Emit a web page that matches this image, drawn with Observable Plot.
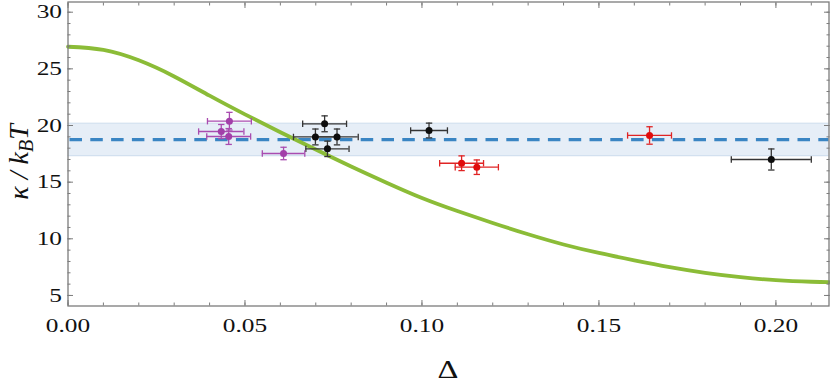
<!DOCTYPE html>
<html><head><meta charset="utf-8">
<script src="https://cdn.jsdelivr.net/npm/d3@7"></script>
<script src="https://cdn.jsdelivr.net/npm/@observablehq/plot@0.6"></script>
<style>body{margin:0;background:#fff}</style>
</head><body><div id="chart"></div>
<script>
// Theory curve (green)
const curveDelta = [0, 0.01, 0.02, 0.03, 0.04, 0.05, 0.06, 0.07, 0.08, 0.09, 0.10, 0.11, 0.12, 0.13, 0.14, 0.15, 0.16, 0.17, 0.18, 0.19, 0.20, 0.21, 0.215];
const curveKappa = [26.95, 26.67, 25.75, 24.33, 22.63, 20.98, 19.41, 17.88, 16.38, 14.95, 13.6, 12.45, 11.4, 10.4, 9.5, 8.75, 8.1, 7.5, 7.0, 6.62, 6.35, 6.21, 6.18];

// Measured points
const pointSet   = ["purple", "purple", "purple", "purple", "black", "black", "black", "black", "black", "black", "red", "red", "red"];
const pointDelta = [0.0456, 0.0433, 0.0454, 0.0609, 0.0725, 0.0699, 0.0760, 0.0733, 0.1020, 0.1987, 0.1112, 0.1155, 0.1643];
const pointKappa = [20.38, 19.47, 19.03, 17.53, 20.15, 18.99, 18.99, 17.94, 19.56, 17.0, 16.67, 16.32, 19.12];
const pointDeltaErr = [0.0062, 0.0064, 0.0062, 0.0060, 0.0062, 0.0062, 0.0060, 0.0061, 0.0052, 0.0113, 0.0062, 0.0061, 0.0062];
const pointKappaErr = [0.78, 0.62, 0.70, 0.55, 0.70, 0.70, 0.70, 0.68, 0.65, 0.93, 0.65, 0.64, 0.77];

// Mean value and its band
const bandMean = 18.75, bandLow = 17.35, bandHigh = 20.2;

// Axes
const xDomain = [0, 0.215];
const yDomain = [4.07, 30.9];
const xTickValues = [0, 0.05, 0.10, 0.15, 0.20];
const yTickValues = [5, 10, 15, 20, 25, 30];
const xMinorTicks = d3.range(0, 0.2151, 0.01);
const yMinorTicks = d3.range(5, 31, 1);

const dotColor = {purple: "#a23fa9", black: "#0d0d0d", red: "#e00c0c"};
const barColor = {purple: "#a94cb0", black: "#353535", red: "#e02424"};

const curve = curveDelta.map((d, i) => ({d, k: curveKappa[i]}));
const pts = pointDelta.map((d, i) => ({d, k: pointKappa[i], de: pointDeltaErr[i], ke: pointKappaErr[i], set: pointSet[i]}));

const capH = {draw(ctx, size) { const r = Math.sqrt(size / Math.PI); ctx.moveTo(-r, 0); ctx.lineTo(r, 0); }};
const capV = {draw(ctx, size) { const r = Math.sqrt(size / Math.PI); ctx.moveTo(0, -r); ctx.lineTo(0, r); }};

const font = "'Liberation Serif', 'Times New Roman', serif";
const fs = 19.5;
const frameColor = "#7c7c7c";

const plot = Plot.plot({
  width: 830, height: 384,
  marginLeft: 67.5, marginRight: 1.5, marginTop: 1.5, marginBottom: 78.5,
  style: {fontFamily: font, fontSize: fs + "px", color: "#111", background: "#fff"},
  x: {domain: xDomain, label: null},
  y: {domain: yDomain, label: null},
  marks: [
    Plot.rect([{lo: bandLow, hi: bandHigh}], {x1: () => xDomain[0], x2: () => xDomain[1], y1: "lo", y2: "hi", fill: "#e6eef7"}),
    Plot.ruleY([bandLow, bandHigh], {stroke: "#d2e0ef", strokeWidth: 1.2}),
    Plot.ruleY([bandMean], {stroke: "#3a85c3", strokeWidth: 3.3, strokeDasharray: "12.5,8.3", strokeDashoffset: -2}),
    Plot.line(curve, {x: "d", y: "k", stroke: "#8bbc37", strokeWidth: 3.8, curve: "natural"}),
    // error bars
    Plot.ruleY(pts, {y: "k", x1: p => p.d - p.de, x2: p => p.d + p.de, stroke: p => barColor[p.set], strokeWidth: 1.3}),
    Plot.ruleX(pts, {x: "d", y1: p => p.k - p.ke, y2: p => p.k + p.ke, stroke: p => barColor[p.set], strokeWidth: 1.3}),
    Plot.dot(pts, {x: p => p.d - p.de, y: "k", symbol: capV, r: 3.2, stroke: p => barColor[p.set], strokeWidth: 1.3, fill: "none"}),
    Plot.dot(pts, {x: p => p.d + p.de, y: "k", symbol: capV, r: 3.2, stroke: p => barColor[p.set], strokeWidth: 1.3, fill: "none"}),
    Plot.dot(pts, {x: "d", y: p => p.k - p.ke, symbol: capH, r: 3.2, stroke: p => barColor[p.set], strokeWidth: 1.3, fill: "none"}),
    Plot.dot(pts, {x: "d", y: p => p.k + p.ke, symbol: capH, r: 3.2, stroke: p => barColor[p.set], strokeWidth: 1.3, fill: "none"}),
    Plot.dot(pts, {x: "d", y: "k", r: 3.5, fill: p => dotColor[p.set], stroke: "none"}),
    // frame and ticks
    Plot.frame({stroke: frameColor, strokeWidth: 1.3}),
    Plot.axisX(xMinorTicks, {anchor: "bottom", tickSize: -3, fill: "none", stroke: frameColor, label: null}),
    Plot.axisX(xTickValues, {anchor: "bottom", tickSize: -5.5, fill: "none", stroke: frameColor, label: null}),
    Plot.axisX(xMinorTicks, {anchor: "top", tickSize: -3, fill: "none", stroke: frameColor, label: null}),
    Plot.axisX(xTickValues, {anchor: "top", tickSize: -5.5, fill: "none", stroke: frameColor, label: null}),
    Plot.axisY(yMinorTicks, {anchor: "left", tickSize: -3, fill: "none", stroke: frameColor, label: null}),
    Plot.axisY(yTickValues, {anchor: "left", tickSize: -5.5, fill: "none", stroke: frameColor, label: null}),
    Plot.axisY(yMinorTicks, {anchor: "right", tickSize: -3, fill: "none", stroke: frameColor, label: null}),
    Plot.axisY(yTickValues, {anchor: "right", tickSize: -5.5, fill: "none", stroke: frameColor, label: null}),
    Plot.axisX(xTickValues, {anchor: "bottom", tickSize: 0, tickPadding: 12, tickFormat: d3.format(".2f"), fill: "#111", fontSize: fs, label: null}),
    Plot.axisY(yTickValues, {anchor: "left", tickSize: 0, tickPadding: 6, fill: "#111", fontSize: fs, label: null})
  ]
});

document.getElementById("chart").appendChild(plot);

// horizontally widen the tick labels like the reference
d3.select(plot).selectAll("g[aria-label='x-axis tick label'] text, g[aria-label='y-axis tick label'] text")
  .each(function() {
    const t = this.getAttribute("transform") || "";
    this.setAttribute("transform", t + " scale(1.3,1)");
  });

const svg = d3.select(plot);
// x axis title
svg.append("text")
  .attr("transform", "translate(448,378) scale(1.3,1)")
  .attr("text-anchor", "middle")
  .attr("font-family", font)
  .attr("font-size", 25)
  .attr("fill", "#111")
  .text("Δ");
// y axis title
const yl = svg.append("text")
  .attr("transform", "translate(28,162) rotate(-90)")
  .attr("text-anchor", "middle")
  .attr("font-family", font)
  .attr("font-style", "italic")
  .attr("font-size", 28)
  .attr("fill", "#111");
yl.append("tspan").text("κ / k");
yl.append("tspan").attr("baseline-shift", "-25%").attr("font-size", 20).text("B");
yl.append("tspan").text("T");
</script>
</body></html>
